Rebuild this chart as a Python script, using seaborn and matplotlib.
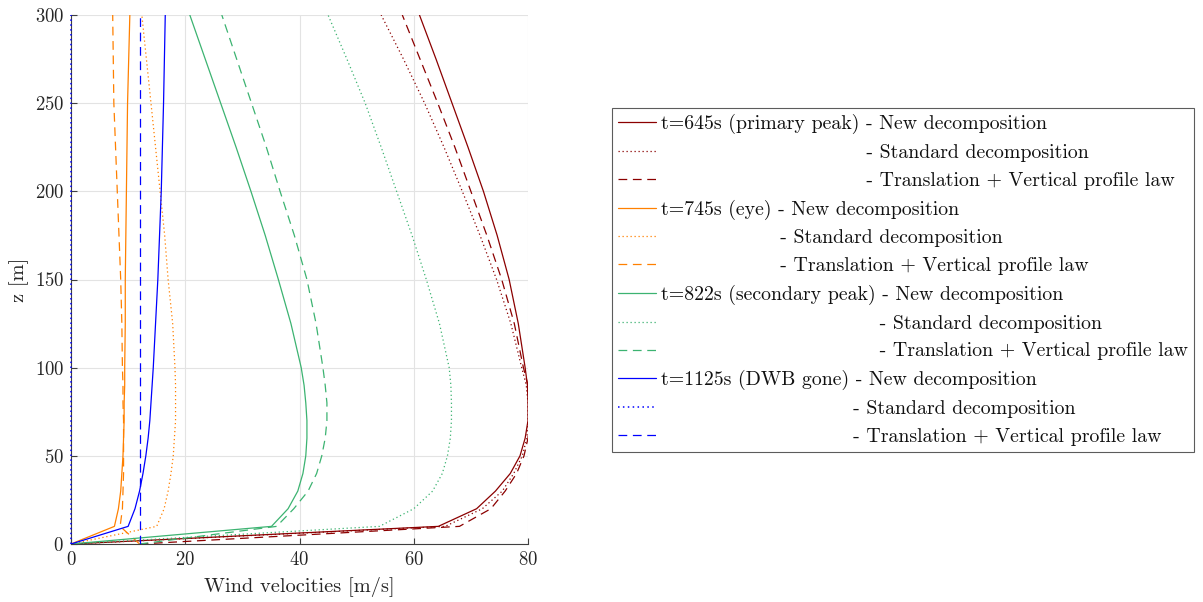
import numpy as np
import pandas as pd
import matplotlib
matplotlib.use("Agg")
import matplotlib.pyplot as plt
import seaborn as sns
from matplotlib.font_manager import FontProperties

# ---------------- data ----------------
z = [0, 10, 20, 30, 40, 50, 60, 70, 80, 90, 100, 125, 150, 175, 200, 225, 250, 275, 300]

# t=645s (primary peak)
u645_new = [0, 64.3, 71.0, 74.3, 76.9, 78.6, 79.5, 80.0, 80.0, 79.9, 79.5, 78.3, 76.7, 74.6, 72.2, 69.5, 66.7, 63.9, 61.0]
u645_std = [0, 65.5, 72.0, 75.5, 77.5, 79.0, 79.8, 80.0, 80.0, 79.7, 78.9, 77.0, 74.5, 71.6, 68.5, 65.3, 61.9, 58.2, 54.3]
u645_trn = [12, 68.0, 73.5, 76.0, 78.0, 79.3, 80.0, 80.2, 80.2, 80.0, 79.2, 77.6, 75.4, 72.8, 70.0, 67.2, 64.2, 61.1, 58.0]
# t=745s (eye)
u745_new = [0, 7.6, 8.3, 8.7, 8.9, 9.1, 9.2, 9.3, 9.3, 9.4, 9.4, 9.5, 9.5, 9.6, 9.7, 9.8, 9.9, 10.1, 10.3]
u745_std = [0, 15.0, 16.3, 17.0, 17.5, 17.9, 18.1, 18.3, 18.3, 18.3, 18.2, 17.8, 17.0, 16.4, 15.6, 14.8, 14.0, 13.2, 12.4]
u745_trn = [12, 8.6, 9.0, 9.1, 9.2, 9.2, 9.2, 9.2, 9.1, 9.1, 9.0, 8.9, 8.7, 8.4, 8.1, 7.8, 7.5, 7.4, 7.3]
# t=822s (secondary peak)
u822_new = [0, 35.1, 38.0, 39.7, 40.6, 41.1, 41.3, 41.3, 41.1, 40.8, 40.3, 38.5, 36.3, 34.0, 31.5, 28.9, 26.2, 23.5, 20.8]
u822_std = [0, 54.0, 60.0, 63.3, 65.0, 65.9, 66.4, 66.6, 66.6, 66.5, 66.2, 64.5, 62.2, 59.7, 57.0, 54.3, 51.5, 48.3, 45.0]
u822_trn = [12, 36.0, 39.0, 41.5, 43.0, 43.9, 44.5, 44.8, 44.8, 44.5, 44.1, 42.9, 41.3, 39.1, 36.6, 34.2, 31.6, 29.0, 26.4]
# t=1125s (DWB gone)
u1125_new = [0, 10.0, 11.2, 12.0, 12.6, 13.1, 13.5, 13.8, 14.0, 14.2, 14.4, 14.8, 15.2, 15.5, 15.8, 16.0, 16.2, 16.35, 16.5]
u1125_std = [0, 0, 0, 0, 0, 0, 0, 0, 0, 0, 0, 0, 0, 0, 0, 0, 0, 0, 0]
u1125_trn = [12, 12, 12, 12, 12, 12, 12, 12, 12, 12, 12, 12, 12, 12, 12, 12, 12, 12, 12]

times = ["t=645s (primary peak)", "t=745s (eye)", "t=822s (secondary peak)", "t=1125s (DWB gone)"]
methods = ["New decomposition", "Standard decomposition", "Translation + Vertical profile law"]
series = {
    (times[0], methods[0]): u645_new, (times[0], methods[1]): u645_std, (times[0], methods[2]): u645_trn,
    (times[1], methods[0]): u745_new, (times[1], methods[1]): u745_std, (times[1], methods[2]): u745_trn,
    (times[2], methods[0]): u822_new, (times[2], methods[1]): u822_std, (times[2], methods[2]): u822_trn,
    (times[3], methods[0]): u1125_new, (times[3], methods[1]): u1125_std, (times[3], methods[2]): u1125_trn,
}

rows = []
for (t, m), vals in series.items():
    for zz, uu in zip(z, vals):
        rows.append({"time": t, "method": m, "u": uu, "z": zz})
df = pd.DataFrame(rows)

# ---------------- style ----------------
sns.set_theme(style="white")
plt.rcParams["font.family"] = ["cmr10", "DejaVu Serif"]
plt.rcParams["mathtext.fontset"] = "cm"
plt.rcParams["axes.formatter.use_mathtext"] = True
plt.rcParams["axes.unicode_minus"] = False

colors = {times[0]: "#8b0000", times[1]: "#ff8000", times[2]: "#3cb371", times[3]: "#0000ff"}
styles = {methods[0]: "-", methods[1]: (0, (1, 2.2)), methods[2]: (0, (7, 4.5))}

fig = plt.figure(figsize=(12.03, 6.02), dpi=100)
ax = fig.add_axes([71 / 1203, 1 - 544 / 602, 457 / 1203, 529 / 602])

handles = []
for t in times:
    for m in methods:
        sub = df[(df.time == t) & (df.method == m)]
        sns.lineplot(data=sub, x="u", y="z", orient="y", sort=False, estimator=None,
                     color=colors[t], linestyle=styles[m], linewidth=0.9, ax=ax, zorder=3)
        handles.append(ax.get_lines()[-1])
# the zero-valued series lies on the left axis: keep it fully visible
handles[10].set_clip_on(False)
handles[10].set_zorder(4)
handles[10].set_linewidth(1.1)

ax.set_xlim(0, 80)
ax.set_ylim(0, 300)
ax.set_xticks([0, 20, 40, 60, 80])
ax.set_yticks([0, 50, 100, 150, 200, 250, 300])
ax.grid(True, color="#e3e3e3", linewidth=0.8)
ax.set_axisbelow(True)
for s in ["top", "right"]:
    ax.spines[s].set_visible(False)
for s in ["left", "bottom"]:
    ax.spines[s].set_color("#404040")
    ax.spines[s].set_linewidth(0.8)
ax.tick_params(direction="in", length=4, width=0.8, color="#404040",
               labelsize=13.5, labelcolor="#262626", pad=5, left=True, bottom=True)
ax.set_xlabel("Wind velocities [m/s]", fontsize=14.7, color="#262626", labelpad=6)
ax.set_ylabel("z [m]", fontsize=14.7, color="#262626", labelpad=4)

# ---------------- legend with aligned dashes ----------------
fs = 14.3
fp = FontProperties(family=["cmr10"], size=fs)
renderer = fig.canvas.get_renderer()
def tw(s):
    return renderer.get_text_width_height_descent(s, fp, ismath=False)[0]
space_w = tw("a a") - tw("aa")

labels = []
for t in times:
    pre_w = tw(t + " ")
    for i, m in enumerate(methods):
        if i == 0:
            labels.append(t + " - " + m)
        else:
            n = int(round(pre_w / space_w))
            labels.append(" " * n + "- " + m)

leg = ax.legend(handles, labels, loc="center left",
                bbox_to_anchor=(612 / 1203, 1 - 280 / 602), bbox_transform=fig.transFigure,
                fontsize=fs, frameon=True, fancybox=False, edgecolor="#333333",
                handlelength=1.9, handletextpad=0.25, labelspacing=0.49, borderpad=0.3,
                borderaxespad=0)
leg.get_frame().set_linewidth(0.8)
for txt in leg.get_texts():
    txt.set_color("#111111")

fig.savefig("out.png", dpi=100)
